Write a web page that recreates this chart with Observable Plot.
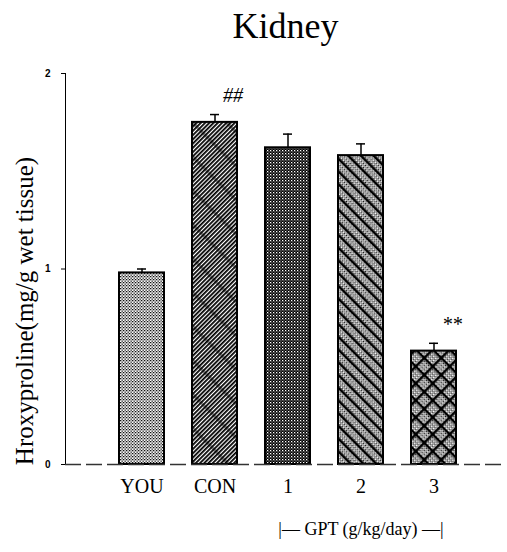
<!DOCTYPE html>
<html>
<head>
<meta charset="utf-8">
<script src="https://cdn.jsdelivr.net/npm/d3@7"></script>
<script src="https://cdn.jsdelivr.net/npm/@observablehq/plot@0.6"></script>
<style>
  html, body { margin: 0; padding: 0; background: #fff; }
  svg { display: block; }
</style>
</head>
<body>
<div id="chart"></div>
<script>
// ---- data ----
const groups = ["YOU", "CON", "1", "2", "3"];
const means  = [0.98, 1.75, 1.62, 1.58, 0.58];
const sems   = [0.02, 0.04, 0.07, 0.06, 0.04];
const signif = ["", "##", "", "", "**"];
const yTicks = [0, 1, 2];
const title = "Kidney";
const yLabel = "Hroxyproline(mg/g wet tissue)";
const groupLabel = "|\u2014 GPT (g/kg/day) \u2014|";

const data = groups.map((g, i) => ({group: g, mean: means[i], sem: sems[i], hi: means[i] + sems[i], sig: signif[i]}));
const patternIds = ["url(#p0)", "url(#p1)", "url(#p2)", "url(#p3)", "url(#p4)"];
const serif = "'Liberation Serif', 'Times New Roman', serif";

const svg = Plot.plot({
  width: 507,
  height: 552,
  marginTop: 73,
  marginBottom: 88,
  marginLeft: 65,
  marginRight: 2,
  style: {background: "#fff", color: "#000"},
  x: {domain: groups, paddingInner: 0.39, paddingOuter: 0.678, align: 0.525, axis: null},
  y: {domain: [0, 2], axis: null},
  color: {domain: groups, range: patternIds},
  marks: [
    Plot.frame({anchor: "left", stroke: "#000", strokeWidth: 1}),
    Plot.axisY({ticks: yTicks, tickFormat: d3.format("d"), tickSize: 4, tickPadding: 11, fontSize: 10, fontWeight: "bold",
      fontFamily: "'Liberation Sans', Arial, sans-serif", label: null}),
    Plot.axisX({tickSize: 0, tickPadding: 14, fontSize: 20, fontFamily: serif, label: null}),
    Plot.barY(data, {x: "group", y: "mean", fill: "group", stroke: "#000", strokeWidth: 2}),
    Plot.ruleX(data, {x: "group", y1: "mean", y2: "hi", stroke: "#000", strokeWidth: 1.5}),
    Plot.tickY(data, {x: "group", y: "hi", insetLeft: 18, insetRight: 18, stroke: "#000", strokeWidth: 1.5}),
    Plot.ruleY([0], {stroke: "#333", strokeWidth: 1.5, strokeDasharray: "16 5"}),
    Plot.text(data.filter(d => d.sig), {x: "group", y: "hi", text: "sig", fontSize: 20, fontFamily: serif,
      fontStyle: "italic", dx: 18, dy: -19}),
    Plot.text([title], {frameAnchor: "top", lineAnchor: "bottom", dy: -36, fontSize: 36, fontFamily: serif}),
    Plot.text([groupLabel], {x: () => "2", frameAnchor: "bottom", lineAnchor: "middle", dy: 65, fontSize: 18, fontFamily: serif}),
    Plot.text([yLabel], {frameAnchor: "left", textAnchor: "middle", rotate: -90, dx: -41, dy: 42, fontSize: 25, fontFamily: serif})
  ]
});

// pattern definitions
const defs = d3.select(svg).insert("defs", ":first-child");
// p0: light stipple
{
  const p = defs.append("pattern").attr("id", "p0").attr("patternUnits", "userSpaceOnUse").attr("width", 3).attr("height", 3);
  p.append("rect").attr("width", 3).attr("height", 3).attr("fill", "#fff");
  p.append("rect").attr("x", 0).attr("y", 0).attr("width", 1.3).attr("height", 1.3).attr("fill", "#111");
  p.append("rect").attr("x", 1.5).attr("y", 1.5).attr("width", 1.3).attr("height", 1.3).attr("fill", "#111");
  p.append("rect").attr("x", 1.5).attr("y", 0).attr("width", 1).attr("height", 1).attr("fill", "#888");
}
// fine hatch (rotated inside p1's frame to appear as "/")
{
  const p = defs.append("pattern").attr("id", "h1").attr("patternUnits", "userSpaceOnUse")
    .attr("width", 3).attr("height", 3).attr("patternTransform", "rotate(90)");
  p.append("rect").attr("width", 3).attr("height", 3).attr("fill", "#fff");
  p.append("rect").attr("width", 1.8).attr("height", 3).attr("fill", "#000");
}
// p1: "/" hatch plus subtle darker "\" bands
{
  const p = defs.append("pattern").attr("id", "p1").attr("patternUnits", "userSpaceOnUse")
    .attr("width", 24).attr("height", 24).attr("patternTransform", "rotate(-45)");
  p.append("rect").attr("width", 24).attr("height", 24).attr("fill", "url(#h1)");
  p.append("rect").attr("width", 3).attr("height", 24).attr("fill", "#000").attr("opacity", 0.4);
}
// p2: dark with white dots
{
  const p = defs.append("pattern").attr("id", "p2").attr("patternUnits", "userSpaceOnUse").attr("width", 3).attr("height", 3);
  p.append("rect").attr("width", 3).attr("height", 3).attr("fill", "#000");
  p.append("rect").attr("x", 0).attr("y", 0).attr("width", 1.3).attr("height", 1.3).attr("fill", "#fff");
  p.append("rect").attr("x", 1.5).attr("y", 1.5).attr("width", 1).attr("height", 1).attr("fill", "#ddd");
}
// p3: "\" lines over stipple
{
  const p = defs.append("pattern").attr("id", "p3").attr("patternUnits", "userSpaceOnUse")
    .attr("width", 9).attr("height", 9).attr("patternTransform", "rotate(-45)");
  p.append("rect").attr("width", 9).attr("height", 9).attr("fill", "url(#p0)");
  p.append("rect").attr("width", 2.4).attr("height", 9).attr("fill", "#000");
}
// p4: crosshatch lattice over stipple
{
  const p = defs.append("pattern").attr("id", "p4").attr("patternUnits", "userSpaceOnUse")
    .attr("width", 12).attr("height", 12).attr("patternTransform", "rotate(45)");
  p.append("rect").attr("width", 12).attr("height", 12).attr("fill", "url(#p0)");
  p.append("rect").attr("width", 2.4).attr("height", 12).attr("fill", "#000");
  p.append("rect").attr("width", 12).attr("height", 2.4).attr("fill", "#000");
}

document.getElementById("chart").appendChild(svg);
</script>
</body>
</html>
